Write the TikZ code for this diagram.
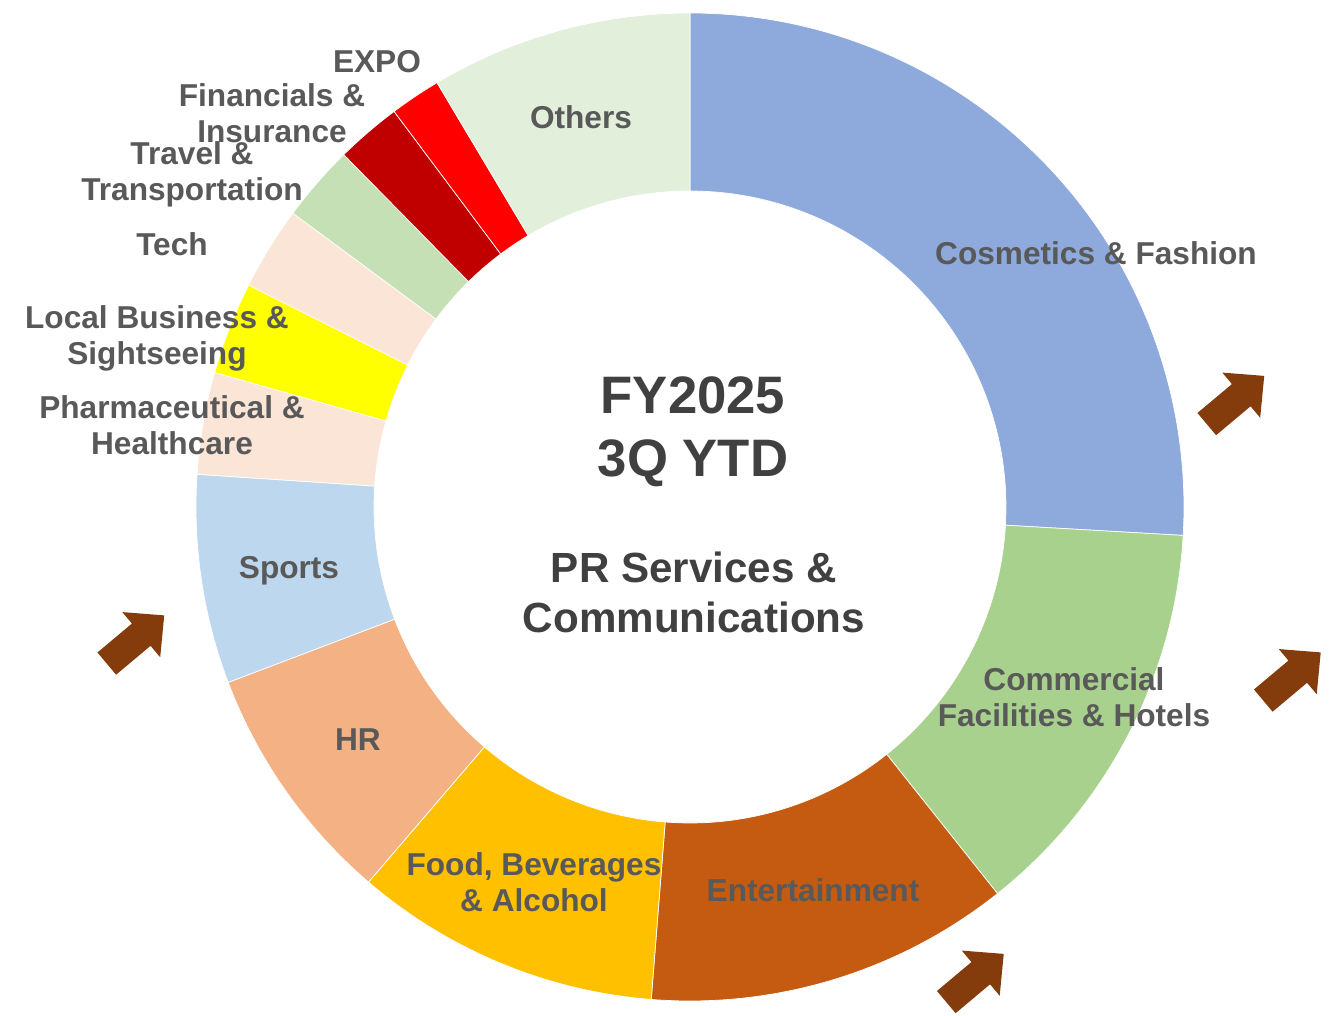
\documentclass[tikz,border=0pt]{standalone}
\usepackage{fontspec}
\setmainfont{Liberation Sans}
\usetikzlibrary{positioning}
\definecolor{cosmo}{HTML}{8EA9DB}
\definecolor{commer}{HTML}{A9D18E}
\definecolor{entert}{HTML}{C55A11}
\definecolor{foodbev}{HTML}{FFC000}
\definecolor{hrseg}{HTML}{F4B183}
\definecolor{sports}{HTML}{BDD7EE}
\definecolor{pharma}{HTML}{FBE5D6}
\definecolor{localbiz}{HTML}{FFFF00}
\definecolor{techseg}{HTML}{FBE5D6}
\definecolor{travel}{HTML}{C5E0B4}
\definecolor{finins}{HTML}{C00000}
\definecolor{expo}{HTML}{FF0000}
\definecolor{others}{HTML}{E2EFDA}
\definecolor{labelgray}{HTML}{595959}
\definecolor{titlegray}{HTML}{404040}
\definecolor{arrowbrown}{HTML}{843C0C}
\tikzset{
    seglabel/.style = {align=center, inner sep=0pt, text=labelgray, font=\bfseries\fontsize{18}{20.5}\selectfont},
    ctrtitle/.style = {align=center, inner sep=0pt, text=titlegray, font=\bfseries\fontsize{30}{35.8}\selectfont},
    ctrsub/.style = {align=center, inner sep=0pt, text=titlegray, font=\bfseries\fontsize{24}{28.5}\selectfont},
    slice/.style = {draw=white, line width=0.4pt},
    brownarrow/.pic = {
      \fill[arrowbrown] (-0.75,-0.29) -- (0.15,-0.29) -- (0.15,-0.59) -- (0.75,0)
        -- (0.15,0.59) -- (0.15,0.29) -- (-0.75,0.29) -- cycle;
    }
}
\begin{document}
\begin{tikzpicture}
  \useasboundingbox (-13.8,-10.18) rectangle (12.84,10.14);
  \def\rin{6.32}
  \def\rout{9.88}
  % slices, clockwise from the top
  \foreach \a/\b/\c in {90/-3.3/cosmo, -3.3/-51.5/commer, -51.5/-94.5/entert,
      -94.5/-130.6/foodbev, -130.6/-159.2/hrseg, 200.8/176.2/sports,
      176.2/164.2/pharma, 164.2/153.3/localbiz, 153.3/143.5/techseg,
      143.5/134.5/travel, 134.5/126.8/finins, 126.8/120.8/expo, 120.8/90/others}
    \filldraw[slice, fill=\c] (\a:\rout) arc[start angle=\a, end angle=\b, radius=\rout]
      -- (\b:\rin) arc[start angle=\b, end angle=\a, radius=\rin] -- cycle;

  \node[seglabel] (lcosmo) at (8.12,5.08) {Cosmetics \& Fashion};
  \node[seglabel] (lcommer) at (7.68,-3.8) {Commercial\\Facilities \& Hotels};
  \node[seglabel] (lentert) at (2.46,-7.66) {Entertainment};
  \node[seglabel] (lfood) at (-3.12,-7.5) {Food, Beverages\\\& Alcohol};
  \node[seglabel] (lhr) at (-6.64,-4.66) {HR};
  \node[seglabel] (lsports) at (-8.02,-1.28) {Sports};
  \node[seglabel] (lpharma) at (-10.36,1.64) {Pharmaceutical \&\\Healthcare};
  \node[seglabel] (llocal) at (-10.66,3.37) {Local Business \&\\Sightseeing};
  \node[seglabel] (ltech) at (-10.36,5.26) {Tech};
  \node[seglabel] (ltravel) at (-9.96,6.65) {Travel \&\\Transportation};
  \node[seglabel] (lfin) at (-8.36,7.88) {Financials \&\\Insurance};
  \node[seglabel] (lexpo) at (-6.26,8.9) {EXPO};
  \node[seglabel] (lothers) at (-2.18,7.8) {Others};

  \node[ctrtitle] (ttl) at (0.06,1.5) {FY2025\\3Q YTD};
  \node[ctrsub] (sub) at (0.08,-1.7) {PR Services \&\\Communications};

  \pic[rotate=40] (arrA) at (10.91,2.14) {brownarrow};
  \pic[rotate=40] (arrB) at (12.04,-3.39) {brownarrow};
  \pic[rotate=40] (arrC) at (-11.09,-2.65) {brownarrow};
  \pic[rotate=40] (arrD) at (5.70,-9.42) {brownarrow};
\end{tikzpicture}
\end{document}
